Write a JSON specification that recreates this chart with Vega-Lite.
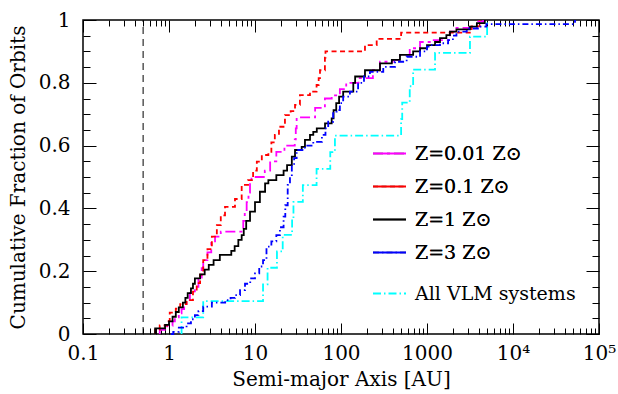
{
  "$schema": "https://vega.github.io/schema/vega-lite/v6.json",
  "width": 516,
  "height": 314,
  "autosize": "none",
  "padding": {"left": 83, "top": 20, "right": 19, "bottom": 60},
  "background": "white",
  "config": {
    "view": {"stroke": "black", "strokeWidth": 1.5},
    "axis": {
      "domain": false, "grid": false, "tickColor": "black", "tickWidth": 1,
      "labelColor": "black", "titleColor": "black",
      "labelFont": "DejaVu Serif", "titleFont": "DejaVu Serif",
      "labelFontSize": 20, "titleFontSize": 20, "titleFontWeight": "normal"
    },
    "legend": {
      "labelFont": "DejaVu Serif", "labelFontSize": 19, "labelColor": "black", "labelLimit": 400,
      "labelOffset": 8, "symbolType": "stroke", "symbolSize": 1089,
      "symbolStrokeWidth": 1.8, "rowPadding": 5, "padding": 0
    }
  },
  "datasets": {
    "z": [
      {"s": "Z=0.01 Z⊙", "a": 0.78, "f": 0},
      {"s": "Z=0.01 Z⊙", "a": 0.78, "f": 0.013},
      {"s": "Z=0.01 Z⊙", "a": 0.95, "f": 0.026},
      {"s": "Z=0.01 Z⊙", "a": 1.1, "f": 0.04},
      {"s": "Z=0.01 Z⊙", "a": 1.17, "f": 0.053},
      {"s": "Z=0.01 Z⊙", "a": 1.3, "f": 0.066},
      {"s": "Z=0.01 Z⊙", "a": 1.4, "f": 0.079},
      {"s": "Z=0.01 Z⊙", "a": 1.5, "f": 0.092},
      {"s": "Z=0.01 Z⊙", "a": 1.6, "f": 0.108},
      {"s": "Z=0.01 Z⊙", "a": 1.75, "f": 0.13},
      {"s": "Z=0.01 Z⊙", "a": 2.0, "f": 0.15},
      {"s": "Z=0.01 Z⊙", "a": 2.2, "f": 0.18},
      {"s": "Z=0.01 Z⊙", "a": 2.4, "f": 0.21},
      {"s": "Z=0.01 Z⊙", "a": 2.5, "f": 0.235},
      {"s": "Z=0.01 Z⊙", "a": 2.8, "f": 0.26},
      {"s": "Z=0.01 Z⊙", "a": 3.1, "f": 0.29},
      {"s": "Z=0.01 Z⊙", "a": 3.43, "f": 0.31},
      {"s": "Z=0.01 Z⊙", "a": 4.0, "f": 0.326},
      {"s": "Z=0.01 Z⊙", "a": 7.3, "f": 0.36},
      {"s": "Z=0.01 Z⊙", "a": 7.6, "f": 0.39},
      {"s": "Z=0.01 Z⊙", "a": 8.0, "f": 0.42},
      {"s": "Z=0.01 Z⊙", "a": 8.4, "f": 0.45},
      {"s": "Z=0.01 Z⊙", "a": 8.75, "f": 0.48},
      {"s": "Z=0.01 Z⊙", "a": 9.1, "f": 0.5},
      {"s": "Z=0.01 Z⊙", "a": 13, "f": 0.52},
      {"s": "Z=0.01 Z⊙", "a": 15, "f": 0.55},
      {"s": "Z=0.01 Z⊙", "a": 17.7, "f": 0.58},
      {"s": "Z=0.01 Z⊙", "a": 22, "f": 0.6},
      {"s": "Z=0.01 Z⊙", "a": 29, "f": 0.62},
      {"s": "Z=0.01 Z⊙", "a": 29.8, "f": 0.655},
      {"s": "Z=0.01 Z⊙", "a": 30.5, "f": 0.69},
      {"s": "Z=0.01 Z⊙", "a": 50, "f": 0.72},
      {"s": "Z=0.01 Z⊙", "a": 65, "f": 0.75},
      {"s": "Z=0.01 Z⊙", "a": 78, "f": 0.76},
      {"s": "Z=0.01 Z⊙", "a": 97, "f": 0.78},
      {"s": "Z=0.01 Z⊙", "a": 115, "f": 0.8},
      {"s": "Z=0.01 Z⊙", "a": 160, "f": 0.815},
      {"s": "Z=0.01 Z⊙", "a": 235, "f": 0.84},
      {"s": "Z=0.01 Z⊙", "a": 284, "f": 0.867},
      {"s": "Z=0.01 Z⊙", "a": 400, "f": 0.873},
      {"s": "Z=0.01 Z⊙", "a": 485, "f": 0.889},
      {"s": "Z=0.01 Z⊙", "a": 630, "f": 0.91},
      {"s": "Z=0.01 Z⊙", "a": 830, "f": 0.93},
      {"s": "Z=0.01 Z⊙", "a": 1150, "f": 0.936},
      {"s": "Z=0.01 Z⊙", "a": 1850, "f": 0.963},
      {"s": "Z=0.01 Z⊙", "a": 2200, "f": 0.975},
      {"s": "Z=0.01 Z⊙", "a": 3800, "f": 0.995},
      {"s": "Z=0.01 Z⊙", "a": 4500, "f": 1.0},

      {"s": "Z=0.1 Z⊙", "a": 0.69, "f": 0},
      {"s": "Z=0.1 Z⊙", "a": 0.69, "f": 0.014},
      {"s": "Z=0.1 Z⊙", "a": 0.78, "f": 0.027},
      {"s": "Z=0.1 Z⊙", "a": 0.95, "f": 0.041},
      {"s": "Z=0.1 Z⊙", "a": 1.02, "f": 0.068},
      {"s": "Z=0.1 Z⊙", "a": 1.2, "f": 0.081},
      {"s": "Z=0.1 Z⊙", "a": 1.35, "f": 0.095},
      {"s": "Z=0.1 Z⊙", "a": 1.6, "f": 0.108},
      {"s": "Z=0.1 Z⊙", "a": 1.9, "f": 0.135},
      {"s": "Z=0.1 Z⊙", "a": 2.1, "f": 0.162},
      {"s": "Z=0.1 Z⊙", "a": 2.3, "f": 0.189},
      {"s": "Z=0.1 Z⊙", "a": 2.5, "f": 0.235},
      {"s": "Z=0.1 Z⊙", "a": 2.8, "f": 0.27},
      {"s": "Z=0.1 Z⊙", "a": 3.15, "f": 0.31},
      {"s": "Z=0.1 Z⊙", "a": 3.6, "f": 0.347},
      {"s": "Z=0.1 Z⊙", "a": 4.0, "f": 0.378},
      {"s": "Z=0.1 Z⊙", "a": 4.48, "f": 0.405},
      {"s": "Z=0.1 Z⊙", "a": 5.85, "f": 0.43},
      {"s": "Z=0.1 Z⊙", "a": 7.0, "f": 0.475},
      {"s": "Z=0.1 Z⊙", "a": 8.3, "f": 0.49},
      {"s": "Z=0.1 Z⊙", "a": 9.5, "f": 0.52},
      {"s": "Z=0.1 Z⊙", "a": 10.5, "f": 0.549},
      {"s": "Z=0.1 Z⊙", "a": 12, "f": 0.57},
      {"s": "Z=0.1 Z⊙", "a": 14.3, "f": 0.58},
      {"s": "Z=0.1 Z⊙", "a": 15.5, "f": 0.61},
      {"s": "Z=0.1 Z⊙", "a": 17, "f": 0.634},
      {"s": "Z=0.1 Z⊙", "a": 19, "f": 0.66},
      {"s": "Z=0.1 Z⊙", "a": 22.3, "f": 0.697},
      {"s": "Z=0.1 Z⊙", "a": 26, "f": 0.71},
      {"s": "Z=0.1 Z⊙", "a": 29.2, "f": 0.73},
      {"s": "Z=0.1 Z⊙", "a": 33.3, "f": 0.761},
      {"s": "Z=0.1 Z⊙", "a": 43.6, "f": 0.772},
      {"s": "Z=0.1 Z⊙", "a": 52, "f": 0.793},
      {"s": "Z=0.1 Z⊙", "a": 55, "f": 0.815},
      {"s": "Z=0.1 Z⊙", "a": 57, "f": 0.84},
      {"s": "Z=0.1 Z⊙", "a": 65, "f": 0.88},
      {"s": "Z=0.1 Z⊙", "a": 66, "f": 0.9},
      {"s": "Z=0.1 Z⊙", "a": 190, "f": 0.92},
      {"s": "Z=0.1 Z⊙", "a": 260, "f": 0.94},
      {"s": "Z=0.1 Z⊙", "a": 500, "f": 0.96},
      {"s": "Z=0.1 Z⊙", "a": 3300, "f": 0.98},
      {"s": "Z=0.1 Z⊙", "a": 4100, "f": 1.0},

      {"s": "Z=1 Z⊙", "a": 0.69, "f": 0},
      {"s": "Z=1 Z⊙", "a": 0.69, "f": 0.018},
      {"s": "Z=1 Z⊙", "a": 0.9, "f": 0.029},
      {"s": "Z=1 Z⊙", "a": 1.0, "f": 0.04},
      {"s": "Z=1 Z⊙", "a": 1.1, "f": 0.055},
      {"s": "Z=1 Z⊙", "a": 1.2, "f": 0.07},
      {"s": "Z=1 Z⊙", "a": 1.3, "f": 0.085},
      {"s": "Z=1 Z⊙", "a": 1.45, "f": 0.1},
      {"s": "Z=1 Z⊙", "a": 1.55, "f": 0.115},
      {"s": "Z=1 Z⊙", "a": 1.65, "f": 0.13},
      {"s": "Z=1 Z⊙", "a": 1.8, "f": 0.145},
      {"s": "Z=1 Z⊙", "a": 1.9, "f": 0.16},
      {"s": "Z=1 Z⊙", "a": 2.0, "f": 0.177},
      {"s": "Z=1 Z⊙", "a": 2.3, "f": 0.19},
      {"s": "Z=1 Z⊙", "a": 2.6, "f": 0.205},
      {"s": "Z=1 Z⊙", "a": 2.9, "f": 0.22},
      {"s": "Z=1 Z⊙", "a": 3.3, "f": 0.235},
      {"s": "Z=1 Z⊙", "a": 3.9, "f": 0.252},
      {"s": "Z=1 Z⊙", "a": 5.3, "f": 0.265},
      {"s": "Z=1 Z⊙", "a": 5.8, "f": 0.28},
      {"s": "Z=1 Z⊙", "a": 6.4, "f": 0.3},
      {"s": "Z=1 Z⊙", "a": 7.0, "f": 0.315},
      {"s": "Z=1 Z⊙", "a": 7.4, "f": 0.335},
      {"s": "Z=1 Z⊙", "a": 7.9, "f": 0.36},
      {"s": "Z=1 Z⊙", "a": 8.75, "f": 0.39},
      {"s": "Z=1 Z⊙", "a": 10, "f": 0.42},
      {"s": "Z=1 Z⊙", "a": 11.4, "f": 0.453},
      {"s": "Z=1 Z⊙", "a": 13.1, "f": 0.48},
      {"s": "Z=1 Z⊙", "a": 14.3, "f": 0.49},
      {"s": "Z=1 Z⊙", "a": 17.7, "f": 0.506},
      {"s": "Z=1 Z⊙", "a": 21.5, "f": 0.52},
      {"s": "Z=1 Z⊙", "a": 23.6, "f": 0.538},
      {"s": "Z=1 Z⊙", "a": 26.8, "f": 0.565},
      {"s": "Z=1 Z⊙", "a": 29.2, "f": 0.586},
      {"s": "Z=1 Z⊙", "a": 34.9, "f": 0.596},
      {"s": "Z=1 Z⊙", "a": 38.1, "f": 0.618},
      {"s": "Z=1 Z⊙", "a": 43.6, "f": 0.634},
      {"s": "Z=1 Z⊙", "a": 47.6, "f": 0.644},
      {"s": "Z=1 Z⊙", "a": 52.3, "f": 0.655},
      {"s": "Z=1 Z⊙", "a": 65.2, "f": 0.671},
      {"s": "Z=1 Z⊙", "a": 77.9, "f": 0.687},
      {"s": "Z=1 Z⊙", "a": 82, "f": 0.713},
      {"s": "Z=1 Z⊙", "a": 88, "f": 0.735},
      {"s": "Z=1 Z⊙", "a": 95, "f": 0.756},
      {"s": "Z=1 Z⊙", "a": 106, "f": 0.772},
      {"s": "Z=1 Z⊙", "a": 139, "f": 0.8},
      {"s": "Z=1 Z⊙", "a": 146, "f": 0.82},
      {"s": "Z=1 Z⊙", "a": 190, "f": 0.84},
      {"s": "Z=1 Z⊙", "a": 284, "f": 0.862},
      {"s": "Z=1 Z⊙", "a": 390, "f": 0.873},
      {"s": "Z=1 Z⊙", "a": 485, "f": 0.889},
      {"s": "Z=1 Z⊙", "a": 690, "f": 0.9},
      {"s": "Z=1 Z⊙", "a": 830, "f": 0.91},
      {"s": "Z=1 Z⊙", "a": 1000, "f": 0.92},
      {"s": "Z=1 Z⊙", "a": 1240, "f": 0.93},
      {"s": "Z=1 Z⊙", "a": 1416, "f": 0.942},
      {"s": "Z=1 Z⊙", "a": 1680, "f": 0.952},
      {"s": "Z=1 Z⊙", "a": 1850, "f": 0.963},
      {"s": "Z=1 Z⊙", "a": 2200, "f": 0.97},
      {"s": "Z=1 Z⊙", "a": 3160, "f": 0.979},
      {"s": "Z=1 Z⊙", "a": 3800, "f": 0.99},
      {"s": "Z=1 Z⊙", "a": 4700, "f": 1.0},

      {"s": "Z=3 Z⊙", "a": 1.05, "f": 0},
      {"s": "Z=3 Z⊙", "a": 1.12, "f": 0.007},
      {"s": "Z=3 Z⊙", "a": 1.3, "f": 0.02},
      {"s": "Z=3 Z⊙", "a": 1.6, "f": 0.034},
      {"s": "Z=3 Z⊙", "a": 1.8, "f": 0.047},
      {"s": "Z=3 Z⊙", "a": 2.0, "f": 0.06},
      {"s": "Z=3 Z⊙", "a": 2.2, "f": 0.073},
      {"s": "Z=3 Z⊙", "a": 2.5, "f": 0.087},
      {"s": "Z=3 Z⊙", "a": 3.15, "f": 0.1},
      {"s": "Z=3 Z⊙", "a": 4.5, "f": 0.108},
      {"s": "Z=3 Z⊙", "a": 5.2, "f": 0.115},
      {"s": "Z=3 Z⊙", "a": 5.85, "f": 0.124},
      {"s": "Z=3 Z⊙", "a": 6.7, "f": 0.14},
      {"s": "Z=3 Z⊙", "a": 7.65, "f": 0.16},
      {"s": "Z=3 Z⊙", "a": 8.8, "f": 0.177},
      {"s": "Z=3 Z⊙", "a": 10, "f": 0.193},
      {"s": "Z=3 Z⊙", "a": 11.2, "f": 0.215},
      {"s": "Z=3 Z⊙", "a": 12.4, "f": 0.235},
      {"s": "Z=3 Z⊙", "a": 13.6, "f": 0.278},
      {"s": "Z=3 Z⊙", "a": 15.5, "f": 0.295},
      {"s": "Z=3 Z⊙", "a": 17.7, "f": 0.315},
      {"s": "Z=3 Z⊙", "a": 19.5, "f": 0.34},
      {"s": "Z=3 Z⊙", "a": 21.5, "f": 0.374},
      {"s": "Z=3 Z⊙", "a": 22.5, "f": 0.41},
      {"s": "Z=3 Z⊙", "a": 24, "f": 0.475},
      {"s": "Z=3 Z⊙", "a": 25.5, "f": 0.5},
      {"s": "Z=3 Z⊙", "a": 26.8, "f": 0.538},
      {"s": "Z=3 Z⊙", "a": 28.5, "f": 0.56},
      {"s": "Z=3 Z⊙", "a": 30.5, "f": 0.586},
      {"s": "Z=3 Z⊙", "a": 38, "f": 0.6},
      {"s": "Z=3 Z⊙", "a": 47.6, "f": 0.612},
      {"s": "Z=3 Z⊙", "a": 60, "f": 0.634},
      {"s": "Z=3 Z⊙", "a": 66, "f": 0.655},
      {"s": "Z=3 Z⊙", "a": 71, "f": 0.676},
      {"s": "Z=3 Z⊙", "a": 81, "f": 0.708},
      {"s": "Z=3 Z⊙", "a": 89, "f": 0.713},
      {"s": "Z=3 Z⊙", "a": 97, "f": 0.735},
      {"s": "Z=3 Z⊙", "a": 106, "f": 0.756},
      {"s": "Z=3 Z⊙", "a": 127, "f": 0.772},
      {"s": "Z=3 Z⊙", "a": 158, "f": 0.8},
      {"s": "Z=3 Z⊙", "a": 185, "f": 0.82},
      {"s": "Z=3 Z⊙", "a": 217, "f": 0.835},
      {"s": "Z=3 Z⊙", "a": 310, "f": 0.851},
      {"s": "Z=3 Z⊙", "a": 425, "f": 0.867},
      {"s": "Z=3 Z⊙", "a": 580, "f": 0.883},
      {"s": "Z=3 Z⊙", "a": 830, "f": 0.9},
      {"s": "Z=3 Z⊙", "a": 1000, "f": 0.915},
      {"s": "Z=3 Z⊙", "a": 1080, "f": 0.92},
      {"s": "Z=3 Z⊙", "a": 1416, "f": 0.926},
      {"s": "Z=3 Z⊙", "a": 1760, "f": 0.936},
      {"s": "Z=3 Z⊙", "a": 2000, "f": 0.95},
      {"s": "Z=3 Z⊙", "a": 2200, "f": 0.963},
      {"s": "Z=3 Z⊙", "a": 2900, "f": 0.973},
      {"s": "Z=3 Z⊙", "a": 4130, "f": 0.979},
      {"s": "Z=3 Z⊙", "a": 4900, "f": 0.987},
      {"s": "Z=3 Z⊙", "a": 52600, "f": 1.0}
    ],
    "vlm": [
      {"s": "All VLM systems", "a": 1.4, "f": 0},
      {"s": "All VLM systems", "a": 1.4, "f": 0.053},
      {"s": "All VLM systems", "a": 2.5, "f": 0.105},
      {"s": "All VLM systems", "a": 12.4, "f": 0.158},
      {"s": "All VLM systems", "a": 14, "f": 0.211},
      {"s": "All VLM systems", "a": 18, "f": 0.263},
      {"s": "All VLM systems", "a": 21, "f": 0.316},
      {"s": "All VLM systems", "a": 27, "f": 0.368},
      {"s": "All VLM systems", "a": 28, "f": 0.421},
      {"s": "All VLM systems", "a": 36, "f": 0.474},
      {"s": "All VLM systems", "a": 52, "f": 0.526},
      {"s": "All VLM systems", "a": 75, "f": 0.579},
      {"s": "All VLM systems", "a": 85, "f": 0.632},
      {"s": "All VLM systems", "a": 500, "f": 0.684},
      {"s": "All VLM systems", "a": 515, "f": 0.737},
      {"s": "All VLM systems", "a": 630, "f": 0.789},
      {"s": "All VLM systems", "a": 690, "f": 0.842},
      {"s": "All VLM systems", "a": 1240, "f": 0.895},
      {"s": "All VLM systems", "a": 3160, "f": 0.947},
      {"s": "All VLM systems", "a": 5000, "f": 1.0}
    ],
    "ref": [{"a": 0.5}]
  },
  "layer": [
    {
      "data": {"name": "ref"},
      "mark": {"type": "rule", "color": "black", "strokeWidth": 1, "strokeDash": [7, 5]},
      "encoding": {
        "x": {"field": "a", "type": "quantitative", "scale": {"type": "log", "domain": [0.1, 100000], "nice": false},
          "axis": {"orient": "top", "values": [0.1, 1, 10, 100, 1000, 10000, 100000], "offset": -12, "tickSize": 12, "labels": false, "title": null}},
        "y": {"datum": 0, "type": "quantitative", "scale": {"domain": [0, 1], "nice": false},
          "axis": {"orient": "right", "values": [0, 0.2, 0.4, 0.6, 0.8, 1], "offset": -13, "tickSize": 13, "labels": false, "title": null}},
        "y2": {"datum": 1}
      }
    },
    {
      "data": {"name": "vlm"},
      "mark": {"type": "point", "opacity": 0},
      "encoding": {
        "x": {"field": "a", "type": "quantitative", "scale": {"type": "log", "domain": [0.1, 100000], "nice": false},
          "axis": {"orient": "top", "values": [0.2,0.3,0.4,0.5,0.6,0.7,0.8,0.9,2,3,4,5,6,7,8,9,20,30,40,50,60,70,80,90,200,300,400,500,600,700,800,900,2000,3000,4000,5000,6000,7000,8000,9000,20000,30000,40000,50000,60000,70000,80000,90000], "offset": -6, "tickSize": 6, "labels": false, "title": null}},
        "y": {"field": "f", "type": "quantitative", "scale": {"domain": [0, 1], "nice": false},
          "axis": {"orient": "right", "values": [0.05,0.1,0.15,0.25,0.3,0.35,0.45,0.5,0.55,0.65,0.7,0.75,0.85,0.9,0.95], "offset": -7, "tickSize": 7, "labels": false, "title": null}}
      }
    },
    {
      "data": {"name": "vlm"},
      "mark": {"type": "line", "interpolate": "step-after", "strokeWidth": 1.8, "strokeDash": [8, 3, 1.5, 3]},
      "encoding": {
        "x": {"field": "a", "type": "quantitative", "scale": {"type": "log", "domain": [0.1, 100000], "nice": false},
          "axis": {"orient": "bottom", "values": [0.2,0.3,0.4,0.5,0.6,0.7,0.8,0.9,2,3,4,5,6,7,8,9,20,30,40,50,60,70,80,90,200,300,400,500,600,700,800,900,2000,3000,4000,5000,6000,7000,8000,9000,20000,30000,40000,50000,60000,70000,80000,90000], "offset": -6, "tickSize": 6, "labels": false, "title": null}},
        "y": {"field": "f", "type": "quantitative", "scale": {"domain": [0, 1], "nice": false},
          "axis": {"orient": "left", "values": [0.05,0.1,0.15,0.25,0.3,0.35,0.45,0.5,0.55,0.65,0.7,0.75,0.85,0.9,0.95], "offset": -7, "tickSize": 7, "labels": false, "title": null}},
        "color": {"field": "s", "type": "nominal", "scale": {"domain": ["All VLM systems"], "range": ["#00ffff"]},
          "legend": {"orient": "none", "legendX": 289, "legendY": 256, "title": null, "symbolDash": [8, 3, 1.5, 3]}}
      }
    },
    {
      "data": {"name": "z"},
      "mark": {"type": "line", "interpolate": "step-after", "strokeWidth": 1.8},
      "encoding": {
        "x": {"field": "a", "type": "quantitative", "scale": {"type": "log", "domain": [0.1, 100000], "nice": false},
          "axis": {"orient": "bottom", "values": [0.1, 1, 10, 100, 1000, 10000, 100000], "offset": -11, "tickSize": 11, "labelPadding": 9, "titlePadding": 6,
            "labelFlush": false, "labelOverlap": false,
            "title": "Semi-major Axis [AU]",
            "labelExpr": "datum.value == 10000 ? '10⁴' : (datum.value == 100000 ? '10⁵' : format(datum.value, '~g'))"}},
        "y": {"field": "f", "type": "quantitative", "scale": {"domain": [0, 1], "nice": false},
          "axis": {"orient": "left", "values": [0, 0.2, 0.4, 0.6, 0.8, 1], "offset": -13, "tickSize": 13, "labelPadding": 13, "titlePadding": 10,
            "labelFlush": false, "labelOverlap": false,
            "title": "Cumulative Fraction of Orbits", "format": "~g"}},
        "color": {"field": "s", "type": "nominal",
          "scale": {"domain": ["Z=0.01 Z⊙", "Z=0.1 Z⊙", "Z=1 Z⊙", "Z=3 Z⊙"], "range": ["#ff00ff", "#ff0000", "#000000", "#0000ff"]},
          "legend": {"orient": "none", "legendX": 289, "legendY": 116, "title": null}},
        "strokeDash": {"field": "s", "type": "nominal",
          "scale": {"domain": ["Z=0.01 Z⊙", "Z=0.1 Z⊙", "Z=1 Z⊙", "Z=3 Z⊙"], "range": [[10, 4, 3, 4], [5, 3.5], [1, 0], [6, 3, 1.5, 3]]},
          "legend": {"orient": "none", "legendX": 289, "legendY": 116, "title": null}}
      }
    }
  ],
  "resolve": {
    "scale": {"color": "independent"},
    "axis": {"x": "independent", "y": "independent"}
  }
}
